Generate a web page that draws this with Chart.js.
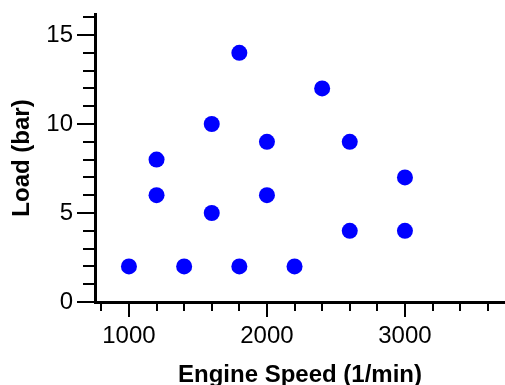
<!DOCTYPE html>
<html>
<head>
<meta charset="utf-8">
<script src="https://cdn.jsdelivr.net/npm/chart.js@4"></script>
<style>
  html, body { margin: 0; padding: 0; background: #fff; }
  #wrap { width: 505px; height: 385px; }
</style>
</head>
<body>
<div id="wrap"><canvas id="chart" width="505" height="385"></canvas></div>
<script>
// engine speed (1/min) and load (bar) for each measured point
const speed = [1000, 1200, 1200, 1400, 1600, 1600, 1800, 1800, 2000, 2000, 2200, 2400, 2600, 2600, 3000, 3000];
const load  = [2,    8,    6,    2,    10,   5,    14,   2,    9,    6,    2,    12,   9,    4,    7,    4];

// tick positions; the labelled ones get long marks
const xTicks = [800, 1000, 1200, 1400, 1600, 1800, 2000, 2200, 2400, 2600, 2800, 3000, 3200, 3400, 3600];
const yTicks = [0, 1, 2, 3, 4, 5, 6, 7, 8, 9, 10, 11, 12, 13, 14, 15, 16];
const xMajor = [1000, 2000, 3000];
const yMajor = [0, 5, 10, 15];

const font = "'Liberation Sans', Arial, sans-serif";

const noPad = s => {
  s.paddingLeft = 0; s.paddingRight = 0; s.paddingTop = 0; s.paddingBottom = 0;
};

// tick marks: long for labelled values, short for the rest
const tickMarks = {
  id: "tickMarks",
  afterDraw(c) {
    const ctx = c.ctx;
    const xs = c.scales.x, ys = c.scales.y;
    ctx.save();
    ctx.strokeStyle = "#000";
    ctx.lineWidth = 2;
    ctx.beginPath();
    xs.ticks.forEach(t => {
      const px = Math.round(xs.getPixelForValue(t.value));
      const len = xMajor.includes(t.value) ? 14 : 8;
      ctx.moveTo(px, xs.top + 1);
      ctx.lineTo(px, xs.top + 1 + len);
    });
    ys.ticks.forEach(t => {
      const py = Math.round(ys.getPixelForValue(t.value));
      const len = yMajor.includes(t.value) ? 17 : 11;
      ctx.moveTo(ys.right - 1, py);
      ctx.lineTo(ys.right - 1 - len, py);
    });
    ctx.stroke();
    ctx.restore();
  }
};

new Chart(document.getElementById("chart"), {
  type: "scatter",
  data: {
    datasets: [{
      data: speed.map((s, i) => ({ x: s, y: load[i] })),
      backgroundColor: "#0000ff",
      borderWidth: 0,
      pointRadius: 8,
      pointHoverRadius: 8
    }]
  },
  options: {
    responsive: false,
    animation: false,
    layout: { autoPadding: false, padding: { top: 14, right: 0, left: 0, bottom: 0 } },
    plugins: { legend: { display: false }, tooltip: { enabled: false } },
    scales: {
      x: {
        type: "linear",
        min: 754, max: 3725,
        afterBuildTicks: s => { s.ticks = xTicks.map(v => ({ value: v })); },
        afterFit: s => { s.height = 83; noPad(s); },
        border: { display: true, color: "#000", width: 3 },
        grid: { display: false, drawTicks: false },
        ticks: {
          autoSkip: false, maxRotation: 0, minRotation: 0,
          padding: 20, color: "#000",
          font: { family: font, size: 24 },
          callback: v => xMajor.includes(v) ? String(v) : ""
        },
        title: {
          display: true, text: "Engine Speed (1/min)", color: "#000",
          font: { family: font, size: 24, weight: "bold", lineHeight: 0.8 },
          padding: 0
        }
      },
      y: {
        type: "linear",
        min: 0, max: 16.18,
        afterBuildTicks: s => { s.ticks = yTicks.map(v => ({ value: v })); },
        afterFit: s => { s.width = 95; noPad(s); },
        border: { display: true, color: "#000", width: 3 },
        grid: { display: false, drawTicks: false },
        ticks: {
          autoSkip: false,
          padding: 22, color: "#000",
          font: { family: font, size: 24 },
          callback: v => yMajor.includes(v) ? String(v) : ""
        },
        title: {
          display: true, text: "Load (bar)", color: "#000",
          font: { family: font, size: 24, weight: "bold", lineHeight: 1 },
          padding: { top: 10, bottom: 0 }
        }
      }
    }
  },
  plugins: [tickMarks]
});
</script>
</body>
</html>
